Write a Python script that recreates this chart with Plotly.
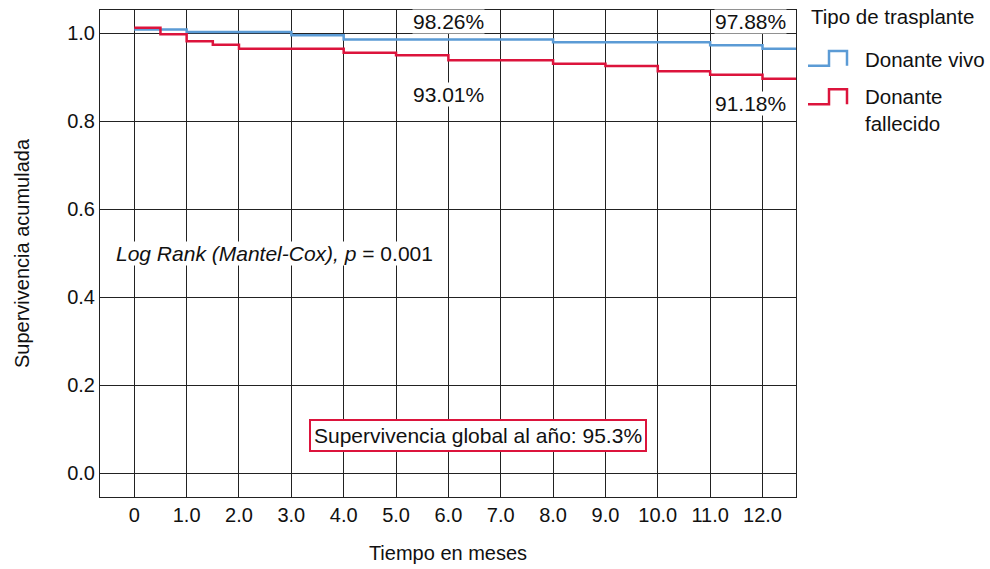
import plotly.graph_objects as go

# ---- data ----
months_ticks = [0, 1, 2, 3, 4, 5, 6, 7, 8, 9, 10, 11, 12]
month_labels = ["0", "1.0", "2.0", "3.0", "4.0", "5.0", "6.0", "7.0", "8.0", "9.0", "10.0", "11.0", "12.0"]
y_ticks = [0.0, 0.2, 0.4, 0.6, 0.8, 1.0]
y_labels = ["0.0", "0.2", "0.4", "0.6", "0.8", "1.0"]

vivo_t = [0, 1, 3, 4, 8, 11, 12, 12.7]
vivo_s = [1.009, 1.003, 0.996, 0.986, 0.980, 0.973, 0.965, 0.965]

fall_t = [0, 0.5, 1, 1.5, 2, 4, 5, 6, 8, 9, 10, 11, 12, 12.7]
fall_s = [1.013, 0.998, 0.982, 0.974, 0.965, 0.956, 0.950, 0.939, 0.931, 0.926, 0.914, 0.906, 0.897, 0.897]

series_names = ["Donante vivo", "Donante<br>fallecido"]
legend_title = "Tipo de trasplante"

# labels: (x, y, text)
pct_labels = [(6.0, 1.0275, "98.26%"), (6.0, 0.861, "93.01%"),
              (11.78, 1.0275, "97.88%"), (11.78, 0.840, "91.18%")]
log_rank_text = "<i>Log Rank (Mantel-Cox), p</i> = 0.001"
log_rank_pos = (2.67, 0.499)
global_text = "Supervivencia global al año: 95.3%"
global_pos = (6.556, 0.085)

BLUE = "#5B9BD5"
RED = "#DC143C"
FONT = "Liberation Sans, Arial, sans-serif"
FS = 21

fig = go.Figure()
fig.add_trace(go.Scatter(x=vivo_t, y=vivo_s, mode="lines", line=dict(color=BLUE, width=2.5, shape="hv"),
                         name="Donante vivo", showlegend=False, hoverinfo="skip"))
fig.add_trace(go.Scatter(x=fall_t, y=fall_s, mode="lines", line=dict(color=RED, width=2.5, shape="hv"),
                         name="Donante fallecido", showlegend=False, hoverinfo="skip"))

annotations = []
for x, y, t in pct_labels:
    annotations.append(dict(x=x, y=y, xref="x", yref="y", text=t, showarrow=False,
                            font=dict(family=FONT, size=FS, color="#111"),
                            bgcolor="white", borderpad=0))
annotations.append(dict(x=log_rank_pos[0], y=log_rank_pos[1], xref="x", yref="y", text=log_rank_text,
                        showarrow=False, font=dict(family=FONT, size=FS, color="#111"),
                        bgcolor="white", borderpad=0))
annotations.append(dict(x=global_pos[0], y=global_pos[1], xref="x", yref="y", text=global_text,
                        showarrow=False, font=dict(family=FONT, size=FS, color="#111"),
                        bgcolor="white", bordercolor=RED, borderwidth=2, borderpad=3))

# custom legend (paper coordinates derived from pixels)
W_PLOT, H_PLOT, L, T = 696.0, 487.3, 100.0, 10.0
def px(xp):
    return (xp - L) / W_PLOT
def py(yp):
    return 1 - (yp - T) / H_PLOT

annotations.append(dict(x=px(809), y=py(17), xref="paper", yref="paper", text=legend_title,
                        xanchor="left", yanchor="middle", showarrow=False,
                        font=dict(family=FONT, size=FS - 0.5, color="#111")))
annotations.append(dict(x=px(863), y=py(60), xref="paper", yref="paper", text=series_names[0],
                        xanchor="left", yanchor="middle", showarrow=False, align="left",
                        font=dict(family=FONT, size=FS - 0.5, color="#111")))
annotations.append(dict(x=px(863), y=py(110), xref="paper", yref="paper", text=series_names[1],
                        xanchor="left", yanchor="middle", showarrow=False, align="left",
                        font=dict(family=FONT, size=FS - 0.5, color="#111")))

shapes = []
for color, ylo, yhi in [(BLUE, 65.7, 51.0), (RED, 104.3, 89.3)]:
    path = (f"M {px(808)} {py(ylo)} L {px(829)} {py(ylo)} L {px(829)} {py(yhi)} "
            f"L {px(847)} {py(yhi)} L {px(847)} {py(ylo)}")
    shapes.append(dict(type="path", xref="paper", yref="paper", path=path,
                       line=dict(color=color, width=2.5)))

fig.update_layout(
    width=990, height=569,
    margin=dict(l=100, r=194, t=10, b=72),
    paper_bgcolor="white", plot_bgcolor="white",
    font=dict(family=FONT, size=FS, color="#111"),
    annotations=annotations, shapes=shapes,
    showlegend=False,
)
fig.update_xaxes(range=[-0.655, 12.64], tickvals=months_ticks, ticktext=month_labels,
                 showgrid=True, gridcolor="#222", gridwidth=1, zeroline=False,
                 showline=True, linecolor="#222", linewidth=1, mirror=True, automargin=False,
                 ticks="", tickfont=dict(family=FONT, size=FS - 1, color="#111"),
                 title=dict(text="Tiempo en meses", font=dict(family=FONT, size=FS - 1, color="#111"), standoff=20))
fig.update_yaxes(range=[-0.0546, 1.0532], tickvals=y_ticks, ticktext=y_labels,
                 showgrid=True, gridcolor="#222", gridwidth=1, zeroline=False,
                 showline=True, linecolor="#222", linewidth=1, mirror=True, automargin=False,
                 ticks="", tickfont=dict(family=FONT, size=FS - 1, color="#111"),
                 title=dict(text="Supervivencia acumulada", font=dict(family=FONT, size=FS - 1, color="#111"), standoff=32))

fig.write_html("out.html", config={"displayModeBar": False},
               post_script="document.body.style.margin='0';document.body.style.padding='0';")
